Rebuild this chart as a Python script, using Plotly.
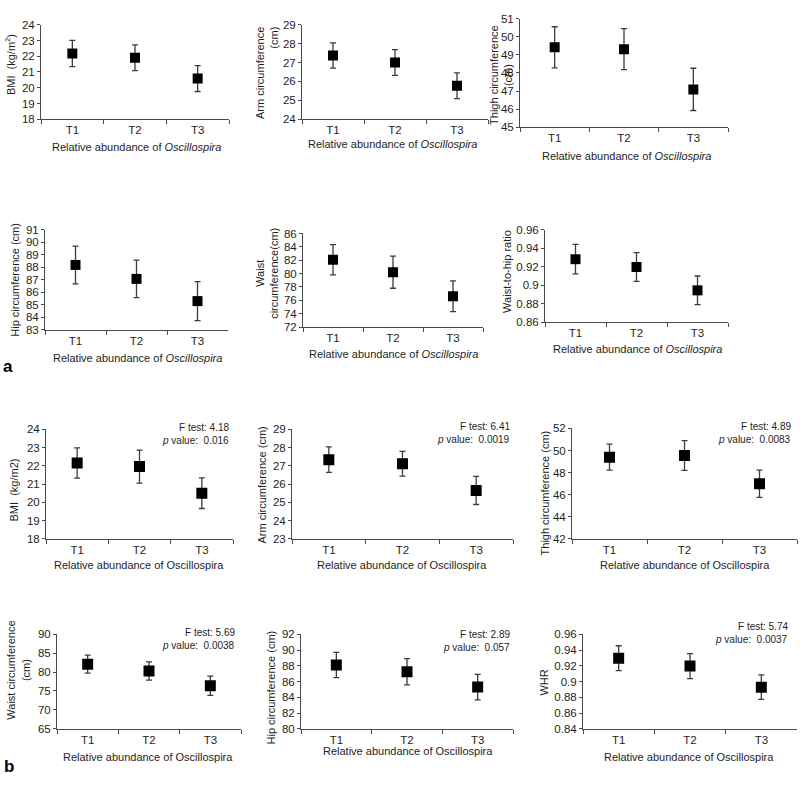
import plotly.graph_objects as go

W, H = 800, 787

# ---------------- data ----------------
categories = ["T1", "T2", "T3"]

# panel a
a_bmi_mean = [22.17, 21.90, 20.58]
a_bmi_err = [0.83, 0.82, 0.82]
a_arm_mean = [27.37, 27.00, 25.77]
a_arm_err = [0.67, 0.68, 0.68]
a_thigh_mean = [49.42, 49.32, 47.09]
a_thigh_err = [1.14, 1.14, 1.17]
a_hip_mean = [88.18, 87.07, 85.30]
a_hip_err = [1.50, 1.50, 1.55]
a_waist_mean = [82.07, 80.20, 76.60]
a_waist_err = [2.26, 2.40, 2.30]
a_whr_mean = [0.928, 0.9195, 0.8943]
a_whr_err = [0.016, 0.0155, 0.0155]

# panel b
b_bmi_mean = [22.16, 21.96, 20.50]
b_bmi_err = [0.83, 0.91, 0.84]
b_arm_mean = [27.34, 27.12, 25.65]
b_arm_err = [0.70, 0.68, 0.77]
b_thigh_mean = [49.40, 49.55, 46.99]
b_thigh_err = [1.18, 1.35, 1.24]
b_waist_mean = [82.10, 80.30, 76.40]
b_waist_err = [2.40, 2.40, 2.55]
b_hip_mean = [88.10, 87.25, 85.30]
b_hip_err = [1.60, 1.67, 1.62]
b_whr_mean = [0.9296, 0.9196, 0.8929]
b_whr_err = [0.0158, 0.0158, 0.0156]

b_f_values = ["4.18", "6.41", "4.89", "5.69", "2.89", "5.74"]
b_p_values = ["0.016", "0.0019", "0.0083", "0.0038", "0.057", "0.0037"]

x_title_a = "Relative abundance of <i>Oscillospira</i>"
x_title_b = "Relative abundance of Oscillospira"

# ---------------- layout of panels (pixel boxes) ----------------
panels = [
    # panel a
    dict(mean=a_bmi_mean, err=a_bmi_err, box=(41, 229, 19, 115), yr=(18, 24), dt=1,
         ytitle="BMI  (kg/m<sup>2</sup>)", yt_pos=(10, 60), yt_align="center",
         xt=x_title_a, xt_pos=(136, 143), ms=10),
    dict(mean=a_arm_mean, err=a_arm_err, box=(302, 488, 19, 115), yr=(24, 29), dt=1,
         ytitle="Arm circumference<br>(cm)", yt_pos=(267, 68), yt_align="right",
         xt=x_title_a, xt_pos=(392, 140), ms=10),
    dict(mean=a_thigh_mean, err=a_thigh_err, box=(520, 728, 13, 123), yr=(45, 51), dt=1,
         ytitle="Thigh circumference<br>(cm)", yt_pos=(501, 70), yt_align="center",
         xt=x_title_a, xt_pos=(626, 152), ms=10),
    dict(mean=a_hip_mean, err=a_hip_err, box=(45, 228, 227, 329), yr=(83, 91), dt=1,
         ytitle="Hip circumference (cm)", yt_pos=(15, 278), yt_align="center",
         xt=x_title_a, xt_pos=(137, 357), ms=10),
    dict(mean=a_waist_mean, err=a_waist_err, box=(303, 483, 231, 326), yr=(72, 86), dt=2,
         ytitle="Waist<br>circumference(cm)", yt_pos=(267, 272), yt_align="center",
         xt=x_title_a, xt_pos=(393, 353), ms=10),
    dict(mean=a_whr_mean, err=a_whr_err, box=(545, 728, 227, 321), yr=(0.86, 0.96), dt=0.02,
         ytitle="Waist-to-hip ratio", yt_pos=(507, 270), yt_align="center",
         xt=x_title_a, xt_pos=(637, 348), ms=10),
    # panel b
    dict(mean=b_bmi_mean, err=b_bmi_err, box=(46, 233, 430, 541), yr=(18, 24), dt=1,
         ytitle="BMI  (kg/m2)", yt_pos=(14, 492), yt_align="center",
         xt=x_title_b, xt_pos=(139, 568), ms=11, stat=(231, 428)),
    dict(mean=b_arm_mean, err=b_arm_err, box=(292, 513, 430, 541), yr=(23, 29), dt=1,
         ytitle="Arm circumference (cm)", yt_pos=(262, 487), yt_align="center",
         xt=x_title_b, xt_pos=(402, 568), ms=11, stat=(512, 427)),
    dict(mean=b_thigh_mean, err=b_thigh_err, box=(572, 797, 429, 541), yr=(42, 52), dt=2,
         ytitle="Thigh circumference (cm)", yt_pos=(545, 495), yt_align="center",
         xt=x_title_b, xt_pos=(685, 568), ms=11, stat=(793, 427)),
    dict(mean=b_waist_mean, err=b_waist_err, box=(57, 241, 638, 734), yr=(65, 90), dt=5,
         ytitle="Waist circumference<br>(cm)", yt_pos=(18, 675), yt_align="center",
         xt=x_title_b, xt_pos=(148, 763), ms=11, stat=(237, 636)),
    dict(mean=b_hip_mean, err=b_hip_err, box=(301, 513, 638, 734), yr=(80, 92), dt=2,
         ytitle="Hip circumference (cm)", yt_pos=(271, 692), yt_align="center",
         xt=x_title_b, xt_pos=(408, 757), ms=11, stat=(512, 638)),
    dict(mean=b_whr_mean, err=b_whr_err, box=(583, 797, 638, 734), yr=(0.84, 0.96), dt=0.02,
         ytitle="WHR", yt_pos=(544, 687), yt_align="center",
         xt=x_title_b, xt_pos=(689, 763), ms=11, stat=(790, 630)),
]

FONT = "Liberation Sans, Arial, sans-serif"
AXIS_COL = "#4a4a4a"
TXT_COL = "#1e1e1e"

fig = go.Figure()
layout = dict(
    width=W, height=H,
    margin=dict(l=0, r=0, t=0, b=0),
    paper_bgcolor="white", plot_bgcolor="white",
    showlegend=False,
    font=dict(family=FONT, size=11, color=TXT_COL),
)
annotations = []


def px(x):
    return x / W


def py(y):
    return 1 - y / H


stat_i = 0
for i, p in enumerate(panels, start=1):
    xa = "x" if i == 1 else f"x{i}"
    ya = "y" if i == 1 else f"y{i}"
    fig.add_trace(go.Scatter(
        x=categories, y=p["mean"], mode="markers",
        xaxis=xa, yaxis=ya,
        marker=dict(symbol="square", size=p["ms"], color="black"),
        error_y=dict(type="data", array=p["err"], visible=True,
                     color="#3c3c3c", thickness=1.3, width=3),
        hoverinfo="x+y",
    ))
    x0, x1, y0, y1 = p["box"]
    layout["xaxis" if i == 1 else f"xaxis{i}"] = dict(
        domain=[px(x0), px(x1)], anchor=ya,
        type="category", range=[-0.5, 2.5],
        tickson="boundaries", ticks="outside", ticklen=4, tickcolor=AXIS_COL,
        showline=True, linecolor=AXIS_COL, linewidth=1,
        showgrid=False, zeroline=False,
        tickfont=dict(family=FONT, size=11.5, color=TXT_COL),
        fixedrange=True,
    )
    layout["yaxis" if i == 1 else f"yaxis{i}"] = dict(
        domain=[py(y1), py(y0)], anchor=xa,
        range=list(p["yr"]), tick0=p["yr"][0], dtick=p["dt"],
        ticks="outside", ticklen=3, tickcolor=AXIS_COL,
        showline=True, linecolor=AXIS_COL, linewidth=1,
        showgrid=False, zeroline=False,
        tickfont=dict(family=FONT, size=11.5, color=TXT_COL),
        fixedrange=True,
    )
    # y title
    annotations.append(dict(
        text=p["ytitle"], xref="paper", yref="paper",
        x=px(p["yt_pos"][0]), y=py(p["yt_pos"][1]),
        xanchor="center", yanchor="middle", textangle=-90,
        align=p["yt_align"], showarrow=False,
        font=dict(family=FONT, size=11, color=TXT_COL),
    ))
    # x title
    annotations.append(dict(
        text=p["xt"], xref="paper", yref="paper",
        x=px(p["xt_pos"][0]), y=py(p["xt_pos"][1]),
        xanchor="center", yanchor="middle", showarrow=False,
        font=dict(family=FONT, size=11, color=TXT_COL),
    ))
    if "stat" in p:
        sx, sy = p["stat"]
        annotations.append(dict(
            text=f"F test: {b_f_values[stat_i]}",
            xref="paper", yref="paper", x=px(sx), y=py(sy),
            xanchor="right", yanchor="middle", showarrow=False,
            font=dict(family=FONT, size=10, color=TXT_COL),
        ))
        annotations.append(dict(
            text=f"<i>p</i> value:  {b_p_values[stat_i]}",
            xref="paper", yref="paper", x=px(sx), y=py(sy + 13),
            xanchor="right", yanchor="middle", showarrow=False,
            font=dict(family=FONT, size=10, color=TXT_COL),
        ))
        stat_i += 1

# panel letters
annotations.append(dict(text="<b>a</b>", xref="paper", yref="paper", x=px(8), y=py(366),
                        xanchor="center", yanchor="middle", showarrow=False,
                        font=dict(family=FONT, size=17, color="black")))
annotations.append(dict(text="<b>b</b>", xref="paper", yref="paper", x=px(9), y=py(772),
                        xanchor="center", yanchor="middle", showarrow=False,
                        font=dict(family=FONT, size=17, color="black")))

layout["annotations"] = annotations
fig.update_layout(**layout)
fig.write_html(
    "out.html",
    config={"displayModeBar": False},
    post_script="document.body.style.margin='0';document.body.style.overflow='hidden';",
)
